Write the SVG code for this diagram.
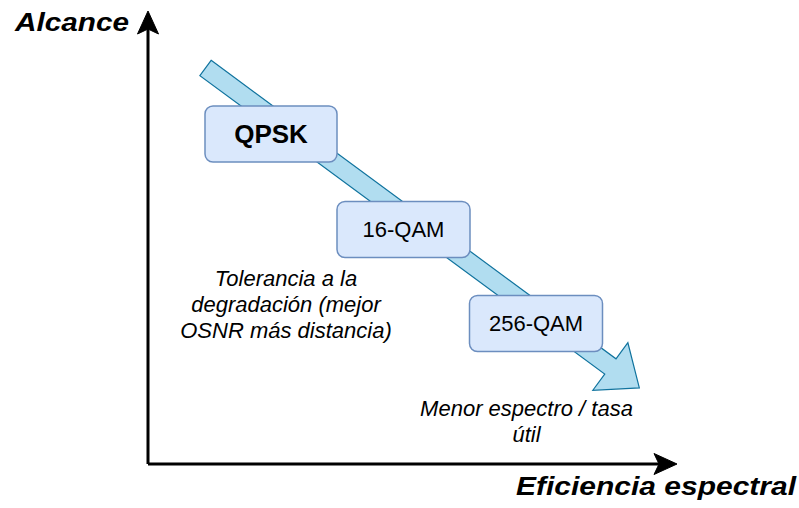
<svg xmlns="http://www.w3.org/2000/svg" width="799" height="508" viewBox="0 0 799 508">
  <style>
    .axis { fill: none; stroke: #000; stroke-width: 3; stroke-linejoin: miter; }
    .head { fill: #000; stroke: #000; stroke-width: 1; stroke-linejoin: miter; }
    .trend { fill: #b1ddf0; stroke: #10739e; stroke-width: 1.2; stroke-linejoin: miter; }
    .box { fill: #dae8fc; stroke: #6c8ebf; stroke-width: 1.5; }
    text { font-family: "Liberation Sans", Arial, sans-serif; fill: #000; text-anchor: middle; }
    .axislabel { font-size: 26px; font-weight: bold; font-style: italic; text-anchor: start; }
    .mod { font-size: 22px; }
    .bold { font-weight: bold; font-size: 26px; }
    .note { font-size: 22px; font-style: italic; }
  </style>

  <!-- axes -->
  <g id="axes">
    <path class="axis" d="M148,464 H660 M148,464 V28"/>
    <polygon class="head" points="148,11 137.5,34 148,29 158.5,34"/>
    <polygon class="head" points="677,464 654,453.5 659,464 654,474.5"/>
  </g>
  <g id="label-alcance">
    <text class="axislabel" x="15" y="31" textLength="114" lengthAdjust="spacingAndGlyphs">Alcance</text>
  </g>
  <g id="label-eficiencia">
    <text class="axislabel" x="516" y="495" textLength="280" lengthAdjust="spacingAndGlyphs">Eficiencia espectral</text>
  </g>

  <!-- wide trend arrow -->
  <g id="connectors">
    <g transform="translate(205.5,68) rotate(36.4)">
      <polygon class="trend" points="0,-9.5 503,-9.5 503,-29.5 539,0 503,29.5 503,9.5 0,9.5"/>
    </g>
  </g>

  <!-- modulation formats -->
  <g id="qpsk">
    <rect class="box" x="205" y="106" width="132" height="56" rx="8"/>
    <text class="bold" x="271" y="143">QPSK</text>
  </g>
  <g id="qam16">
    <rect class="box" x="337" y="201.5" width="133" height="56" rx="8"/>
    <text class="mod" x="403.5" y="237">16-QAM</text>
  </g>
  <g id="qam256">
    <rect class="box" x="469.5" y="295.5" width="133" height="56" rx="8"/>
    <text class="mod" x="536" y="331">256-QAM</text>
  </g>

  <!-- annotations -->
  <g id="note-tolerancia">
    <text class="note" x="286" y="286">Tolerancia a la</text>
    <text class="note" x="286" y="312">degradación (mejor</text>
    <text class="note" x="286" y="338">OSNR más distancia)</text>
  </g>
  <g id="note-espectro">
    <text class="note" x="526.5" y="416">Menor espectro / tasa</text>
    <text class="note" x="526.5" y="442">útil</text>
  </g>
</svg>
